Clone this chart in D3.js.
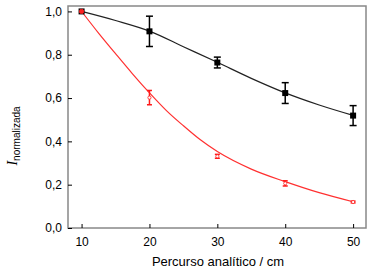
<!DOCTYPE html>
<html>
<head>
<meta charset="utf-8">
<script src="https://cdn.jsdelivr.net/npm/d3@7"></script>
<style>
  body { margin: 0; background: #fff; }
  text { font-family: "Liberation Sans", Arial, sans-serif; }
</style>
</head>
<body>
<div class="chart"></div>
<script>
// measured points
var pathLen = [10, 20, 30, 40, 50];
var blackVals = [1.0, 0.908, 0.764, 0.623, 0.519];
var blackErr = [0, 0.07, 0.025, 0.048, 0.046];
var redVals = [1.0, 0.602, 0.331, 0.206, 0.12];
var redErr = [0, 0.033, 0.009, 0.012, 0.004];

// fitted curves
var blackFitX = [10, 15, 20, 25, 30, 35, 40, 45, 50];
var blackFit = [1.0, 0.958, 0.909, 0.837, 0.765, 0.691, 0.624, 0.568, 0.520];
var redFitX = [10, 12.5, 15, 17.5, 20, 22.5, 25, 27.5, 30, 35, 40, 45, 50];
var redFit = [1.0, 0.9, 0.805, 0.712, 0.624, 0.542, 0.472, 0.407, 0.353, 0.272, 0.214, 0.163, 0.121];

var xTicks = [10, 20, 30, 40, 50];
var yTicks = [0, 0.2, 0.4, 0.6, 0.8, 1.0];

var width = 372, height = 268;
var margin = { top: 6, right: 6, bottom: 40, left: 68 };

var svg = d3.select(".chart").append("svg")
  .attr("width", width)
  .attr("height", height);

var x = d3.scaleLinear().domain([8, 51.9]).range([margin.left, width - margin.right]);
var y = d3.scaleLinear().domain([0, 1.025]).range([height - margin.bottom, margin.top]);
var fmt = function (d) { return d3.format(".1f")(d).replace(".", ","); };

// frame
svg.append("rect")
  .attr("x", margin.left).attr("y", margin.top)
  .attr("width", width - margin.left - margin.right)
  .attr("height", height - margin.top - margin.bottom)
  .attr("fill", "none").attr("stroke", "#888").attr("stroke-width", 1.5);

// x axis
var xAxis = svg.append("g")
  .attr("transform", "translate(0," + (height - margin.bottom) + ")")
  .call(d3.axisBottom(x).tickValues(xTicks).tickSizeInner(-4).tickSizeOuter(0).tickPadding(9));
xAxis.select(".domain").remove();
xAxis.selectAll("text").attr("font-size", 12).attr("fill", "#000")
  .attr("font-family", "Liberation Sans, Arial, sans-serif");

// y axis
var yAxis = svg.append("g")
  .attr("transform", "translate(" + margin.left + ",0)")
  .call(d3.axisLeft(y).tickValues(yTicks).tickFormat(fmt).tickSizeInner(-4).tickSizeOuter(0).tickPadding(6));
yAxis.select(".domain").remove();
yAxis.selectAll("text").attr("font-size", 12).attr("fill", "#000")
  .attr("font-family", "Liberation Sans, Arial, sans-serif");

// titles
svg.append("text")
  .attr("x", 218).attr("y", 266)
  .attr("text-anchor", "middle")
  .attr("font-size", 13)
  .text("Percurso analítico / cm");

var yt = svg.append("text")
  .attr("transform", "translate(17,136) rotate(-90)")
  .attr("text-anchor", "middle");
yt.append("tspan").attr("font-family", "Liberation Serif, Times New Roman, serif")
  .attr("font-style", "italic").attr("font-size", 14).text("I");
yt.append("tspan").attr("font-size", 10).attr("dy", 3).text("normalizada");

// fit lines
var line = d3.line()
  .x(function (d) { return x(d[0]); })
  .y(function (d) { return y(d[1]); })
  .curve(d3.curveMonotoneX);

svg.append("path").datum(d3.zip(blackFitX, blackFit))
  .attr("d", line).attr("fill", "none").attr("stroke", "#222").attr("stroke-width", 1.2);
svg.append("path").datum(d3.zip(redFitX, redFit))
  .attr("d", line).attr("fill", "none").attr("stroke", "#ff3030").attr("stroke-width", 1.2);

function errBars(vals, errs, color, cap) {
  var g = svg.append("g").attr("stroke", color).attr("stroke-width", 1.5);
  pathLen.forEach(function (px, i) {
    if (!errs[i]) return;
    var cx = x(px), y1 = y(vals[i] + errs[i]), y2 = y(vals[i] - errs[i]);
    g.append("line").attr("x1", cx).attr("x2", cx).attr("y1", y1).attr("y2", y2);
    g.append("line").attr("x1", cx - cap).attr("x2", cx + cap).attr("y1", y1).attr("y2", y1);
    g.append("line").attr("x1", cx - cap).attr("x2", cx + cap).attr("y1", y2).attr("y2", y2);
  });
}

errBars(blackVals, blackErr, "#000", 3.5);
errBars(redVals, redErr, "#ff1a1a", 2.5);

// markers
svg.selectAll(".sq").data(pathLen).enter().append("rect")
  .attr("class", "sq")
  .attr("x", function (d) { return x(d) - 3; })
  .attr("y", function (d, i) { return y(blackVals[i]) - 3; })
  .attr("width", 6).attr("height", 6)
  .attr("fill", "#000");

svg.selectAll(".ci").data(pathLen).enter().append("circle")
  .attr("class", "ci")
  .attr("cx", function (d) { return x(d); })
  .attr("cy", function (d, i) { return y(redVals[i]); })
  .attr("r", function (d, i) { return i === 0 ? 2.2 : 1.6; })
  .attr("fill", function (d, i) { return i === 0 ? "#ff2020" : "#fff"; })
  .attr("stroke", "#ff2020").attr("stroke-width", 0.8);
</script>
</body>
</html>
